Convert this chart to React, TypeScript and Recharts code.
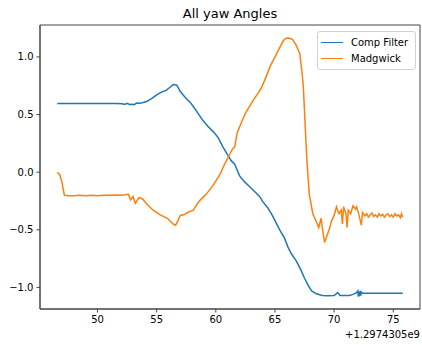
import React from "react";
import { LineChart, Line, XAxis, YAxis, Legend, ReferenceArea } from "recharts";

// time axis is shown as offset from 1.2974305e9 (matplotlib style)
const compT = [
  46.6, 47.5, 48.5, 49.5, 50.5, 51.5, 52.1, 52.3, 52.5, 52.7, 52.9, 53.1, 53.3, 53.5, 53.8,
  54.2, 54.6, 55.0, 55.4, 55.8, 56.1, 56.4, 56.7, 57.0, 57.4, 57.8, 58.1, 58.5, 58.9, 59.3,
  59.8, 60.2, 60.6, 61.0, 61.3, 61.6, 62.0, 62.4, 62.8, 63.3, 63.7, 64.0, 64.4, 64.8, 65.1,
  65.4, 65.8, 66.1, 66.4, 66.8, 67.2, 67.5, 67.8, 68.1, 68.5, 69.0, 69.5, 70.0, 70.3, 70.5,
  71.0, 71.3, 71.6, 71.9, 72.0, 72.05, 72.1, 72.15, 72.2, 72.25, 72.3, 72.4, 73.0, 74.0, 75.0,
  75.8,
];
const compYaw = [
  0.595, 0.595, 0.595, 0.595, 0.595, 0.595, 0.593, 0.587, 0.598, 0.588, 0.59, 0.586, 0.6, 0.598, 0.602,
  0.615, 0.64, 0.67, 0.695, 0.71, 0.735, 0.76, 0.755, 0.7, 0.65, 0.61, 0.57, 0.51, 0.45, 0.4,
  0.35, 0.3, 0.22, 0.15, 0.1, 0.07, -0.03, -0.08, -0.12, -0.17, -0.21, -0.26, -0.31, -0.38, -0.44,
  -0.5, -0.57, -0.65, -0.71, -0.77, -0.85, -0.92, -0.98, -1.03, -1.055, -1.07, -1.072, -1.07, -1.045, -1.07,
  -1.07, -1.07, -1.06, -1.045, -1.03, -1.08, -1.035, -1.075, -1.03, -1.07, -1.04, -1.05, -1.05, -1.05, -1.05,
  -1.05,
];

const madT = [
  46.6, 46.8, 47.0, 47.2, 47.5, 48.0, 48.5, 49.0, 49.5, 50.0, 50.5, 51.0, 51.5, 52.0, 52.4,
  52.6, 52.8, 53.0, 53.2, 53.5, 53.8, 54.2, 54.7, 55.3, 55.9, 56.4, 56.6, 56.8, 57.0, 57.3,
  57.6, 58.1, 58.4, 58.7, 59.2, 59.8, 60.1, 60.4, 60.7, 60.9, 61.2, 61.4, 61.6, 61.8, 62.2,
  62.5, 62.9, 63.2, 63.6, 63.9, 64.3, 64.6, 65.1, 65.4, 65.7, 65.9, 66.1, 66.3, 66.5, 66.8,
  67.1, 67.3, 67.4, 67.6, 67.7, 67.9, 68.2, 68.5, 68.7, 68.9, 69.1, 69.2, 69.3, 69.6, 69.8,
  70.0, 70.2, 70.4, 70.6, 70.7, 70.8, 71.0, 71.1, 71.2, 71.4, 71.6, 71.8, 71.9, 72.1, 72.3,
  72.4, 72.6, 72.75, 72.9, 73.05, 73.2, 73.35, 73.5, 73.65, 73.8, 73.95, 74.1, 74.25, 74.4, 74.55,
  74.7, 74.85, 75.0, 75.15, 75.3, 75.45, 75.6, 75.7, 75.8,
];
const madYaw = [
  0.0, -0.02, -0.09, -0.2, -0.205, -0.205, -0.2, -0.205, -0.2, -0.205, -0.2, -0.2, -0.198, -0.2, -0.195,
  -0.19, -0.24, -0.21, -0.27, -0.22, -0.23, -0.28, -0.33, -0.37, -0.4, -0.45, -0.46, -0.42, -0.375, -0.37,
  -0.35, -0.33, -0.28, -0.24, -0.19, -0.11, -0.06, -0.01, 0.06, 0.1, 0.16, 0.2, 0.22, 0.34, 0.44,
  0.51, 0.58, 0.63, 0.69, 0.74, 0.84, 0.92, 1.02, 1.08, 1.14, 1.16, 1.165, 1.16, 1.15, 1.1,
  1.03, 0.85, 0.74, 0.31, 0.1, -0.19, -0.36, -0.43, -0.48, -0.4, -0.55, -0.61, -0.58, -0.49, -0.42,
  -0.375, -0.3, -0.36, -0.33, -0.45, -0.3, -0.36, -0.48, -0.33, -0.36, -0.29, -0.32, -0.3, -0.37, -0.46,
  -0.35, -0.38, -0.36, -0.39, -0.37, -0.355, -0.385, -0.37, -0.39, -0.36, -0.38, -0.365, -0.39, -0.37, -0.36,
  -0.385, -0.37, -0.39, -0.36, -0.38, -0.37, -0.395, -0.36, -0.39,
];

const xTicks = [50, 55, 60, 65, 70, 75];
const yTicks = [-1.0, -0.5, 0.0, 0.5, 1.0];
const X_DOMAIN: [number, number] = [45.14, 77.26];
const Y_DOMAIN: [number, number] = [-1.187, 1.277];

const compData = compT.map((x, i) => ({ x, y: compYaw[i] }));
const madData = madT.map((x, i) => ({ x, y: madYaw[i] }));

const FONT = "'DejaVu Sans', sans-serif";
const tickStyle = { fontSize: 10, fill: "#000", fontFamily: FONT };
const fmtY = (v: number) => (v < 0 ? "\u2212" + Math.abs(v).toFixed(1) : v.toFixed(1));

const LegendBox = ({ payload }: any) => (
  <div style={{
    border: "1px solid #d0d0d0", borderRadius: 3, background: "rgba(255,255,255,0.8)",
    padding: "2px 0 3px 0", width: 97, fontFamily: FONT, fontSize: 10, color: "#000",
  }}>
    {(payload || []).map((p: any) => (
      <div key={p.value} style={{ display: "flex", alignItems: "center", height: 16 }}>
        <span style={{ display: "inline-block", width: 22, height: 0, borderTop: `1.5px solid ${p.color}`, marginLeft: 3, marginRight: 8 }} />
        <span>{p.value}</span>
      </div>
    ))}
  </div>
);

export default function App() {
  return (
    <div style={{ position: "absolute", left: 0, top: 0, width: 422, height: 345, background: "#fff" }}>
      <div style={{ position: "absolute", left: 40, top: 6, width: 380, textAlign: "center", fontFamily: FONT, fontSize: 13, lineHeight: "16px" }}>
        All yaw Angles
      </div>
      <LineChart width={422} height={345} margin={{ top: 25, right: 2, bottom: 10, left: 0 }}>
        <XAxis type="number" dataKey="x" domain={X_DOMAIN} ticks={xTicks} allowDataOverflow
          height={26} tickSize={3.5} tickMargin={3} tick={tickStyle}
          axisLine={{ stroke: "#444" }} tickLine={{ stroke: "#444" }} />
        <YAxis type="number" domain={Y_DOMAIN} ticks={yTicks} allowDataOverflow width={40}
          tickSize={3.5} tickMargin={3} tick={tickStyle} tickFormatter={fmtY}
          axisLine={{ stroke: "#444" }} tickLine={{ stroke: "#444" }} />
        <ReferenceArea x1={X_DOMAIN[0]} x2={X_DOMAIN[1]} y1={Y_DOMAIN[0]} y2={Y_DOMAIN[1]}
          fill="none" stroke="#444" strokeWidth={1} />
        <Legend content={<LegendBox />} layout="vertical" verticalAlign="middle" align="center"
          wrapperStyle={{ top: 31, left: 317, width: 99 }} />
        <Line data={compData} dataKey="y" name="Comp Filter" type="linear" stroke="#1f77b4"
          strokeWidth={1.5} dot={false} isAnimationActive={false} />
        <Line data={madData} dataKey="y" name="Madgwick" type="linear" stroke="#ff7f0e"
          strokeWidth={1.5} dot={false} isAnimationActive={false} />
      </LineChart>
      <div style={{ position: "absolute", right: 2, top: 329, fontFamily: FONT, fontSize: 10, lineHeight: "12px" }}>
        +1.2974305e9
      </div>
    </div>
  );
}
